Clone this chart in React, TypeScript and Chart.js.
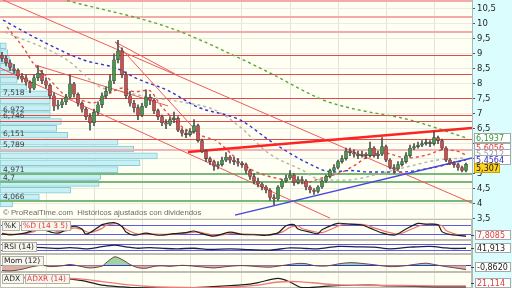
import React, { useEffect, useRef } from 'react';
import { Chart, registerables } from 'chart.js';

Chart.register(...registerables);

// ---------- data ----------
const SLOT_COUNT = 118;
const SLOTS = Array.from({ length: SLOT_COUNT }, (_, i) => i);
const PRICE_TICKS = [3.5, 4, 4.5, 5, 5.5, 6, 6.5, 7, 7.5, 8, 8.5, 9, 9.5, 10, 10.5];

const OPEN = [
  8.95, 8.85, 8.7, 8.5, 8.45, 8.25, 8.2, 8.05, 7.85, 8.2,
  8.35, 8.1, 7.95, 7.6, 7.25, 7.3, 7.4, 7.55, 8.0, 7.65,
  7.35, 7.15, 6.9, 6.7, 7.05, 7.3, 7.6, 7.75, 8.1, 8.8,
  9.1, 8.3, 7.6, 7.35, 7.2, 6.95, 7.25, 7.55, 7.45, 7.1,
  6.9, 6.7, 6.65, 6.8, 6.85, 6.45, 6.35, 6.3, 6.4, 6.6,
  6.1, 5.75, 5.5, 5.4, 5.25, 5.3, 5.45, 5.55, 5.45, 5.4,
  5.35, 5.3, 5.1, 4.9, 4.75, 4.65, 4.55, 4.45, 4.2, 4.15,
  4.55, 4.75, 4.85, 4.95, 4.7, 4.8, 4.75, 4.55, 4.45, 4.4,
  4.55, 4.75, 4.9, 5.1, 5.2, 5.4, 5.5, 5.75, 5.7, 5.65,
  5.6, 5.65, 5.6, 5.85, 5.6, 5.65, 5.9, 5.45, 5.2, 5.15,
  5.3, 5.4, 5.6, 5.85, 5.9, 5.95, 6.0, 6.05, 6.0, 6.2,
  6.1, 5.85, 5.45, 5.35, 5.3, 5.2, 5.1,
];
const HIGH = [
  9.05, 8.95, 8.8, 8.65, 8.5, 8.35, 8.3, 8.1, 8.3, 8.6,
  8.45, 8.2, 8.0, 7.7, 7.45, 7.5, 7.65, 8.3, 8.05, 7.7,
  7.4, 7.2, 7.0, 7.15, 7.4, 7.7, 7.9, 8.3, 9.0, 9.45,
  9.2, 8.4, 7.75, 7.45, 7.3, 7.35, 7.8, 7.65, 7.5, 7.15,
  6.95, 6.8, 6.9, 7.05, 6.9, 6.5, 6.45, 6.5, 6.8, 6.65,
  6.15, 5.8, 5.55, 5.45, 5.4, 5.55, 5.7, 5.6, 5.55, 5.5,
  5.4, 5.35, 5.15, 5.0, 4.85, 4.7, 4.6, 4.5, 4.3, 4.6,
  4.8, 4.95, 5.1, 5.0, 4.9, 4.9, 4.8, 4.6, 4.5, 4.6,
  4.8, 4.95, 5.15, 5.3, 5.45, 5.6, 5.85, 5.85, 5.8, 5.75,
  5.75, 5.7, 6.05, 5.9, 5.75, 6.2, 5.95, 5.5, 5.3, 5.4,
  5.5, 5.7, 5.95, 6.0, 6.05, 6.1, 6.15, 6.1, 6.4, 6.25,
  6.15, 5.9, 5.5, 5.4, 5.35, 5.25, 5.35,
];
const LOW = [
  8.75, 8.6, 8.45, 8.35, 8.15, 8.05, 7.95, 7.7, 7.8, 8.1,
  8.0, 7.85, 7.5, 7.1, 7.15, 7.2, 7.3, 7.5, 7.55, 7.25,
  7.05, 6.8, 6.45, 6.6, 6.95, 7.2, 7.5, 7.7, 8.0, 8.7,
  8.2, 7.5, 7.25, 7.05, 6.8, 6.9, 7.2, 7.3, 7.0, 6.8,
  6.6, 6.5, 6.6, 6.7, 6.4, 6.25, 6.2, 6.25, 6.35, 6.05,
  5.7, 5.4, 5.3, 5.1, 5.15, 5.25, 5.4, 5.35, 5.3, 5.25,
  5.2, 5.0, 4.8, 4.65, 4.55, 4.45, 4.35, 4.1, 3.95, 4.1,
  4.5, 4.7, 4.8, 4.6, 4.65, 4.65, 4.45, 4.35, 4.3, 4.35,
  4.5, 4.7, 4.85, 5.05, 5.15, 5.35, 5.45, 5.6, 5.55, 5.5,
  5.55, 5.5, 5.55, 5.55, 5.5, 5.6, 5.4, 5.15, 5.0, 5.1,
  5.25, 5.35, 5.55, 5.8, 5.85, 5.9, 5.95, 5.9, 5.95, 6.0,
  5.8, 5.4, 5.3, 5.2, 5.1, 5.05, 5.05,
];
const CLOSE = [
  8.85, 8.7, 8.55, 8.45, 8.25, 8.15, 8.05, 7.85, 8.2, 8.35,
  8.1, 7.95, 7.6, 7.25, 7.3, 7.4, 7.55, 8.0, 7.65, 7.35,
  7.15, 6.9, 6.7, 7.05, 7.3, 7.6, 7.75, 8.1, 8.8, 9.1,
  8.3, 7.6, 7.35, 7.2, 6.95, 7.25, 7.55, 7.45, 7.1, 6.9,
  6.7, 6.65, 6.8, 6.85, 6.45, 6.35, 6.3, 6.4, 6.6, 6.1,
  5.75, 5.5, 5.4, 5.25, 5.3, 5.45, 5.55, 5.45, 5.4, 5.35,
  5.3, 5.1, 4.9, 4.75, 4.65, 4.55, 4.45, 4.2, 4.15, 4.55,
  4.75, 4.85, 4.95, 4.7, 4.8, 4.75, 4.55, 4.45, 4.4, 4.55,
  4.75, 4.9, 5.1, 5.2, 5.4, 5.5, 5.75, 5.7, 5.65, 5.6,
  5.65, 5.6, 5.85, 5.6, 5.65, 5.9, 5.45, 5.2, 5.15, 5.3,
  5.4, 5.6, 5.85, 5.9, 5.95, 6.0, 6.05, 6.0, 6.2, 6.1,
  5.85, 5.45, 5.35, 5.3, 5.2, 5.1, 5.307,
];

// moving averages: [candle index, price]
const GREEN_MA = [[16.25, 10.78], [42, 9.87], [57.75, 8.96], [67, 8.36], [80.25, 7.46], [87, 7.19], [102, 6.79], [116, 6.1937]];
const RED_MA = [[1.25, 9.9], [5.75, 9.13], [7.75, 8.7], [12, 8.13], [16.25, 7.56], [19.5, 7.46], [22.75, 7.36], [27, 7.69], [30.25, 7.86], [33.25, 7.73], [36.5, 7.79], [40, 7.22], [45, 6.56], [50.75, 6.22], [53.25, 6.12], [58.25, 5.55], [62.5, 5.12], [70.75, 4.78], [75, 4.68], [80, 4.85], [85, 5.05], [88.25, 5.28], [91.25, 5.55], [95.25, 5.69], [101.25, 5.52], [106.25, 5.62], [110.25, 5.79], [114.5, 5.72], [116, 5.6056]];
const GRAY_MA = [[0.75, 9.73], [16.25, 8.8], [24.5, 7.89], [28.25, 7.79], [36.5, 7.56], [45, 7.39], [53.25, 7.12], [59.5, 6.56], [66.5, 5.69], [75, 5.12], [80, 4.78], [85.75, 4.78], [95.25, 5.02], [101.25, 5.22], [108.75, 5.45], [116, 5.5212]];
const BLUE_MA = [[0.25, 10.13], [9.5, 9.46], [20.25, 8.8], [28.25, 8.53], [34.5, 8.13], [41.25, 7.79], [49, 7.22], [59.5, 6.79], [67.5, 6.05], [77.5, 5.28], [82.5, 5.05], [87, 5.1], [92, 5.05], [99.5, 5.05], [107, 5.18], [116, 5.4564]];

// trend lines: [index, price] endpoints
const RED_TRENDS = [
  [[0.25, 10.8], [117.5, 4.01]],
  [[-0.5, 8.53], [82, 3.51]],
  [[8.25, 8.63], [41.5, 7.26]],
  [[28.25, 9.4], [49.5, 6.29]],
  [[28.25, 9.4], [43.25, 8.33]],
];
const THICK_TREND = [[46.5, 5.72], [117.5, 6.52]];
const BLUE_TREND = [[58.25, 3.61], [117.5, 5.52]];

// horizontal levels
const LEVELS_PALE_TOP = [10.77, 10.23, 9.73];
const LEVELS_RED = [8.96, 8.33, 7.518, 6.972, 6.746, 6.151];
const LEVELS_PALE = [5.789];
const LEVELS_GREEN = [4.971, 4.7, 4.066];
const TAGGED_LEVELS = [7.518, 6.972, 6.746, 6.151, 5.789, 4.971, 4.7, 4.066];

// volume by price
const VP_PRICE = [3.98, 4.21, 4.44, 4.67, 4.9, 5.13, 5.36, 5.59, 5.82, 6.05, 6.28, 6.51, 6.74, 6.97, 7.2, 7.43, 7.66, 7.89, 8.12, 8.35, 8.58, 8.81, 9.04, 9.27];
const VP_VOLUME = [8, 25, 45, 63, 64, 75, 89, 100, 85, 75, 43, 36, 39, 32, 32, 32, 31, 17, 11, 10, 8, 6, 5, 4];

// indicators: [index, value]
const STOCH_K = [[0, 25], [2, 18], [5, 25], [8, 50], [9, 80], [10, 55], [14, 28], [16, 50], [18, 72], [20, 55], [21, 22], [24, 65], [25, 82], [28, 95], [30, 70], [31, 35], [33, 15], [36, 28], [39, 15], [43, 25], [46, 32], [48, 42], [50, 25], [53, 10], [57, 35], [60, 20], [64, 18], [66, 15], [69, 30], [71, 75], [73, 82], [74, 55], [77, 35], [79, 25], [80, 50], [84, 90], [87, 85], [90, 80], [92, 60], [95, 30], [98, 15], [99, 25], [101, 55], [104, 90], [106, 85], [109, 82], [110, 38], [112, 20], [114, 14], [116, 10]];
const STOCH_D = [[0, 28], [2, 22], [5, 22], [8, 38], [10, 62], [11, 60], [14, 38], [16, 42], [18, 62], [20, 50], [22, 32], [25, 58], [26, 78], [29, 88], [30, 70], [32, 40], [34, 22], [37, 24], [40, 20], [44, 24], [47, 32], [49, 36], [51, 25], [54, 15], [58, 28], [61, 22], [65, 18], [67, 18], [70, 35], [72, 65], [74, 75], [75, 58], [78, 38], [80, 32], [82, 50], [85, 82], [88, 85], [91, 80], [93, 62], [96, 38], [99, 22], [100, 28], [102, 50], [105, 80], [107, 85], [110, 75], [111, 45], [113, 25], [115, 12], [116, 7.8085]];
const STOCH_LEVELS = [20, 80];
const RSI = [[0, 32], [4, 35], [8, 48], [11, 45], [14, 40], [17, 47], [21, 38], [24, 48], [28, 65], [31, 52], [34, 42], [37, 47], [41, 40], [44, 38], [48, 42], [52, 33], [57, 37], [62, 32], [67, 28], [72, 45], [76, 40], [79, 37], [84, 55], [89, 52], [93, 50], [97, 38], [102, 50], [107, 56], [111, 44], [113, 40], [116, 41.913]];
const RSI_LEVELS = [30, 70];
const MOM = [[0, -1.0], [2, -1.1], [5, -0.8], [7, -0.4], [10, -0.05], [12, -0.3], [15, -0.15], [17, 0.1], [20, -0.3], [22, -0.55], [25, -0.2], [26, 0.4], [28, 1.5], [29, 1.4], [31, 0.6], [32, 0.1], [34, -0.5], [36, -0.6], [38, -0.25], [40, -0.15], [42, -0.25], [45, -0.05], [47, -0.15], [50, -0.35], [53, -0.55], [56, -0.3], [60, -0.1], [64, -0.3], [67, -0.4], [70, -0.1], [74, 0.3], [76, 0.25], [78, -0.1], [81, -0.2], [84, 0.2], [87, 0.45], [90, 0.3], [93, 0.05], [97, -0.3], [100, -0.2], [104, 0.2], [106, 0.35], [108, 0.1], [111, -0.3], [113, -0.5], [116, -0.862]];
const ADX = [[0, 46], [14, 42], [20, 36], [25, 23], [30, 18], [33, 16], [40, 15.5], [48, 16], [55, 20], [62, 26], [64, 30], [69, 42], [72, 32], [75, 16], [80, 19], [85, 22], [92, 23], [97, 21], [105, 19], [112, 18], [116, 18]];
const ADXR = [[0, 44], [14, 43], [20, 40], [25, 33], [30, 26], [36, 20], [42, 17], [50, 16], [58, 18], [64, 23], [69, 32], [74, 33], [80, 27], [86, 23], [92, 22], [100, 22], [108, 21], [116, 21.114]];

// ---------- helpers ----------
const FONT = '"DejaVu Sans", "Liberation Sans", sans-serif';
const NARROW = '"Liberation Sans", Arial, sans-serif';
const comma = (v: number, d?: number) => (d === undefined ? String(v) : v.toFixed(d)).replace('.', ',');
const pts = (arr: number[][]) => arr.map(([x, y]) => ({ x, y }));
const last = (arr: number[][]) => arr[arr.length - 1][1];

const hLine = (ctx: any, x1: number, x2: number, y: number, color: string, w: number) => {
  ctx.save();
  ctx.strokeStyle = color;
  ctx.lineWidth = w;
  const yy = w % 2 === 1 ? Math.round(y) + 0.5 : Math.round(y);
  ctx.beginPath();
  ctx.moveTo(x1, yy);
  ctx.lineTo(x2, yy);
  ctx.stroke();
  ctx.restore();
};

const tag = (ctx: any, x: number, yMid: number, w: number, text: string, color: string, bg: string, border: string, size = 8) => {
  const h = 10;
  const top = Math.round(yMid - h / 2);
  ctx.save();
  ctx.fillStyle = bg;
  ctx.fillRect(x, top, w, h);
  ctx.strokeStyle = border;
  ctx.lineWidth = 1;
  ctx.strokeRect(x + 0.5, top + 0.5, w - 1, h - 1);
  ctx.fillStyle = color;
  ctx.font = `${size}px ${FONT}`;
  ctx.textAlign = 'left';
  ctx.textBaseline = 'middle';
  ctx.fillText(text, x + 2, top + h / 2 + 0.5);
  ctx.restore();
};

const overlay = {
  id: 'overlay',
  beforeDraw(chart: any) {
    const { ctx, chartArea: a } = chart;
    ctx.save();
    ctx.fillStyle = '#dcfdfd';
    ctx.fillRect(0, 0, chart.width, chart.height);
    ctx.fillStyle = '#fffff3';
    ctx.fillRect(a.left, a.top, a.right - a.left, a.bottom - a.top);
    ctx.restore();
  },
  beforeDatasetsDraw(chart: any) {
    const { ctx, chartArea: a, scales } = chart;
    STOCH_LEVELS.forEach((v) => hLine(ctx, a.left, a.right, scales.yK.getPixelForValue(v), '#5a5ae6', 1));
    RSI_LEVELS.forEach((v) => hLine(ctx, a.left, a.right, scales.yR.getPixelForValue(v), '#5a5ae6', 1));
    hLine(ctx, a.left, a.right, scales.yM.getPixelForValue(0), '#3434d8', 1);
    ctx.save();
    ctx.strokeStyle = '#bdbdb5';
    ctx.lineWidth = 1;
    ['yK', 'yR', 'yM', 'yA'].forEach((id) => {
      const s = scales[id];
      ctx.strokeRect(a.left + 0.5, Math.round(s.top) + 0.5, a.right - a.left - 1, Math.round(s.bottom - s.top) - 1);
    });
    ctx.restore();
  },
  afterDatasetDraw(chart: any, args: any) {
    if (chart.data.datasets[args.index].label !== 'Volumen') return;
    const { ctx, chartArea: a, scales } = chart;
    const y = scales.y;
    LEVELS_PALE_TOP.forEach((v) => hLine(ctx, a.left, a.right, y.getPixelForValue(v), '#f5a9a9', 2));
    LEVELS_RED.forEach((v) => hLine(ctx, a.left, a.right, y.getPixelForValue(v), '#e24a4a', 1));
    LEVELS_PALE.forEach((v) => hLine(ctx, a.left, a.right, y.getPixelForValue(v), '#f4b4b4', 2));
    LEVELS_GREEN.forEach((v) => hLine(ctx, a.left, a.right, y.getPixelForValue(v), '#78b878', 2));
  },
  afterDatasetsDraw(chart: any) {
    const { ctx, scales } = chart;
    ctx.save();
    ctx.font = `7.5px ${FONT}`;
    ctx.fillStyle = '#3c3c3c';
    ctx.textAlign = 'left';
    ctx.textBaseline = 'bottom';
    TAGGED_LEVELS.forEach((v) => ctx.fillText(comma(v), 3, scales.y.getPixelForValue(v) - 1));
    ctx.fillStyle = '#6a6a6a';
    ctx.textBaseline = 'middle';
    ctx.font = `7.8px ${NARROW}`;
    ctx.fillText('© ProRealTime.com  Históricos ajustados con dividendos', 3, 213);
    ctx.restore();
  },
  afterDraw(chart: any) {
    const { ctx, scales, chartArea: a } = chart;
    const x0 = a.right + 2;
    const tags = [
      { v: last(GREEN_MA), d: 4, color: '#3a9a3a', bg: '#ffffff', border: '#a8a8a8' },
      { v: last(RED_MA), d: 4, color: '#e03c3c', bg: '#ffffff', border: '#a8a8a8' },
      { v: last(GRAY_MA), d: 4, color: '#9a9a9a', bg: '#ffffff', border: '#a8a8a8' },
      { v: last(BLUE_MA), d: 4, color: '#2a2ad0', bg: '#ffffff', border: '#a8a8a8' },
      { v: CLOSE[CLOSE.length - 1], d: 3, color: '#111111', bg: '#ffd21e', border: '#c8a000' },
    ];
    const ys: number[] = [];
    let prev = Infinity;
    for (let i = tags.length - 1; i >= 0; i--) {
      const p = scales.y.getPixelForValue(tags[i].v);
      const yy = i === tags.length - 1 ? p + 4 : Math.min(p, prev - 6);
      ys[i] = yy;
      prev = yy;
    }
    tags.forEach((t, i) => tag(ctx, x0, ys[i], t.d === 3 ? 26 : 37, comma(t.v, t.d), t.color, t.bg, t.border));

    const sub = [
      { id: 'yK', v: last(STOCH_D), text: comma(last(STOCH_D), 4), color: '#e03c3c' },
      { id: 'yR', v: last(RSI), text: comma(last(RSI), 3), color: '#222222' },
      { id: 'yM', v: last(MOM), text: comma(last(MOM), 4), color: '#222222' },
      { id: 'yA', v: last(ADXR), text: comma(last(ADXR), 3), color: '#e03c3c' },
    ];
    sub.forEach((s) => {
      const sc = scales[s.id];
      const p = Math.max(sc.top + 6, Math.min(sc.bottom - 5, sc.getPixelForValue(s.v)));
      hLine(ctx, a.right - 1, a.right + 2, p, '#444', 1);
      tag(ctx, x0 + 1, p, 36, s.text, s.color, '#ffffff', '#a8a8a8');
    });

    const titles = [
      { id: 'yK', parts: [['%K', '#222222'], ['%D (14 3 5)', '#e03c3c']] },
      { id: 'yR', parts: [['RSI (14)', '#222222']] },
      { id: 'yM', parts: [['Mom (12)', '#222222']] },
      { id: 'yA', parts: [['ADX', '#222222'], ['ADXR (14)', '#e03c3c']] },
    ];
    ctx.save();
    ctx.font = `7.5px ${FONT}`;
    titles.forEach((t) => {
      let x = 2;
      const yMid = scales[t.id].top + 7;
      t.parts.forEach(([txt, col]) => {
        const w = Math.ceil(ctx.measureText(txt).width) + 5;
        tag(ctx, x, yMid, w, txt, col, '#f6f6ee', '#b0b0a8', 7.5);
        x += w + 1;
      });
    });
    ctx.restore();
  },
};

const GRID_SLOTS = [11, 23, 35, 47, 60, 72, 84, 96, 108];

const fixWidth = (s: any) => {
  s.width = 40;
  s.paddingTop = 0;
  s.paddingBottom = 0;
};
const zeroHeight = (s: any) => {
  s.height = 0;
  s.paddingLeft = 0;
  s.paddingRight = 0;
};

const hiddenX = (min: number, max: number) => ({
  type: 'linear',
  axis: 'x',
  position: 'bottom',
  display: false,
  offset: false,
  min,
  max,
  bounds: 'data',
  ticks: { display: false },
  grid: { display: false, offset: false },
  border: { display: false },
  afterFit: zeroHeight,
});

export default function App() {
  const ref = useRef<HTMLCanvasElement>(null);

  useEffect(() => {
    if (!ref.current) return;
    Chart.defaults.font.family = FONT;
    const up = '#3e9f48';
    const down = '#dc4848';
    const lineDs = (label: string, data: number[][], color: string, width: number, yAxisID: string, extra: any = {}) => ({
      type: 'line',
      label,
      data: pts(data),
      xAxisID: 'xl',
      yAxisID,
      borderColor: color,
      borderWidth: width,
      pointRadius: 0,
      fill: false,
      ...extra,
    });

    const datasets: any[] = [
      {
        type: 'bar',
        label: 'Cuerpo',
        data: OPEN.map((o, i) => [o, CLOSE[i]]),
        backgroundColor: OPEN.map((o, i) => (CLOSE[i] >= o ? up : down)),
        borderColor: '#3c3c3c',
        borderWidth: 0.6,
        borderSkipped: false,
        barThickness: 3,
        minBarLength: 1,
        grouped: false,
        xAxisID: 'x',
        yAxisID: 'y',
      },
      {
        type: 'bar',
        label: 'Mecha',
        data: LOW.map((l, i) => [l, HIGH[i]]),
        backgroundColor: '#505050',
        borderWidth: 0,
        barThickness: 1,
        grouped: false,
        xAxisID: 'x',
        yAxisID: 'y',
      },
      lineDs('Tendencia', THICK_TREND, '#ff2424', 2.6, 'y'),
      lineDs('Soporte', BLUE_TREND, '#4646e0', 1.4, 'y'),
      ...RED_TRENDS.map((t, i) => lineDs('Canal ' + i, t, '#ee5a5a', 1, 'y')),
      lineDs('MA verde', GREEN_MA, '#5aa83c', 1.4, 'y', { borderDash: [3, 3], cubicInterpolationMode: 'monotone' }),
      lineDs('MA roja', RED_MA, '#e44c4c', 1.4, 'y', { borderDash: [3, 3], cubicInterpolationMode: 'monotone' }),
      lineDs('MA gris', GRAY_MA, '#b4b4aa', 1.4, 'y', { borderDash: [3, 3], cubicInterpolationMode: 'monotone' }),
      lineDs('MA azul', BLUE_MA, '#3434d4', 1.4, 'y', { borderDash: [3, 3], cubicInterpolationMode: 'monotone' }),
      lineDs('%K', STOCH_K, '#1e1e1e', 1.2, 'yK', { tension: 0.3 }),
      lineDs('%D', STOCH_D, '#ee7070', 1.2, 'yK', { tension: 0.3 }),
      lineDs('RSI', RSI, '#1c1c5a', 1.3, 'yR', { tension: 0.3 }),
      lineDs('Mom', MOM, '#6a4a4a', 1, 'yM', {
        tension: 0.3,
        fill: { target: 'origin', above: 'rgba(128,196,128,0.75)', below: 'rgba(206,140,128,0.7)' },
      }),
      lineDs('ADXR', ADXR, '#ee7a7a', 1.4, 'yA', { tension: 0.3 }),
      lineDs('ADX', ADX, '#1e1e1e', 1.2, 'yA', { tension: 0.3 }),
      {
        type: 'bar',
        label: 'Volumen',
        indexAxis: 'y',
        data: VP_PRICE.map((p, i) => ({ x: VP_VOLUME[i], y: p })),
        xAxisID: 'xv',
        yAxisID: 'y',
        backgroundColor: '#c6f0f4',
        borderColor: '#86c9d3',
        borderWidth: 1,
        borderSkipped: false,
        barThickness: 6,
        grouped: false,
      },
    ];

    const subAxis = (weight: number, stackWeight: number, min: number, max: number) => ({
      type: 'linear',
      axis: 'y',
      position: 'right',
      stack: 'panels',
      stackWeight,
      weight,
      min,
      max,
      bounds: 'data',
      offset: false,
      grid: { display: false, offset: false },
      ticks: { display: false },
      border: { display: true, color: '#a9b9b9' },
      afterFit: fixWidth,
    });

    const chart = new Chart(ref.current, {
      type: 'bar',
      data: { labels: SLOTS, datasets },
      options: {
        responsive: false,
        maintainAspectRatio: false,
        animation: false,
        events: [],
        layout: { padding: 0 },
        plugins: { legend: { display: false }, tooltip: { enabled: false }, title: { display: false } },
        scales: {
          x: {
            type: 'category',
            position: 'bottom',
            offset: true,
            grid: {
              offset: false,
              drawTicks: false,
              color: (c: any) => (GRID_SLOTS.includes(c.index) ? '#e3e3d6' : 'rgba(0,0,0,0)'),
            },
            ticks: { display: false, autoSkip: false },
            border: { display: false },
            afterFit: zeroHeight,
          },
          xl: hiddenX(-0.5, SLOT_COUNT - 0.5),
          xv: hiddenX(0, 300),
          y: {
            type: 'linear',
            axis: 'y',
            position: 'right',
            stack: 'panels',
            stackWeight: 219,
            weight: 0,
            min: 3.48,
            max: 10.8,
            bounds: 'data',
            offset: false,
            grid: { color: '#ebebdf', offset: false, tickColor: '#555555', tickLength: 3 },
            border: { display: true, color: '#a9b9b9' },
            afterBuildTicks: (s: any) => {
              s.ticks = PRICE_TICKS.map((value) => ({ value }));
            },
            ticks: {
              autoSkip: false,
              padding: 2,
              color: '#262626',
              font: { size: 8.5, family: FONT },
              callback: (v: any) => comma(Number(v)),
            },
            afterFit: fixWidth,
          },
          yK: subAxis(1, 21, -15, 118),
          yR: subAxis(2, 14, 0, 102),
          yM: subAxis(3, 18, -1.3, 2.06),
          yA: subAxis(4, 16, 15, 60),
        },
      } as any,
      plugins: [overlay],
    } as any);

    return () => chart.destroy();
  }, []);

  return (
    <div style={{ position: 'fixed', left: 0, top: 0, width: 512, height: 288, overflow: 'hidden' }}>
      <canvas ref={ref} width={512} height={288} style={{ display: 'block', width: 512, height: 288 }} />
    </div>
  );
}
